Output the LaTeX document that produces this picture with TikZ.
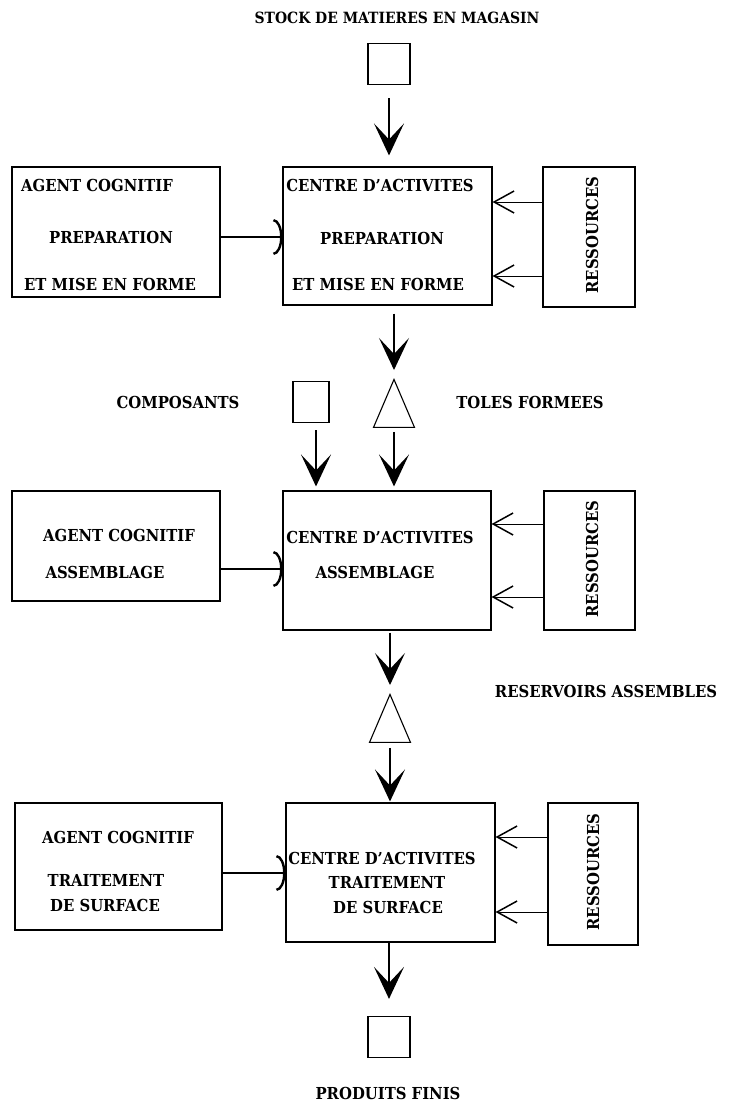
\documentclass[tikz,border=0pt]{standalone}
\usepackage{fontspec}
\setmainfont{DejaVu Serif Condensed}
\usetikzlibrary{arrows.meta, shapes.geometric}

\begin{document}
\begin{tikzpicture}[
  x=1pt, y=-1pt,
  blk/.style 2 args={draw, line width=1.1pt, inner sep=0pt,
    minimum width=#1, minimum height=#2},
  stock/.style={draw, line width=1.2pt, inner sep=0pt,
    minimum width=42pt, minimum height=41pt},
  encours/.style={draw, line width=1.1pt, inner sep=0pt, isosceles triangle,
    isosceles triangle stretches, shape border rotate=90,
    minimum width=41pt, minimum height=48pt, anchor=apex},
  lbl/.style={font=\bfseries\fontsize{16.5}{19}\selectfont, inner sep=0pt},
  flow/.style={-{Stealth[length=32pt, width=30pt, inset=16pt]}, line width=1.3pt},
  res/.style={-{Straight Barb[length=20pt, width=22pt, line width=1.5pt]}, line width=1pt},
  ctl/.style={-{Arc Barb[length=9pt, width=36pt, line width=2.4pt]}, line width=1.2pt},
]
\useasboundingbox (0,0) rectangle (732,1111);

% Stock d'entree
\node[lbl, font=\bfseries\fontsize{15.5}{18}\selectfont] (tStock) at (397,18) {STOCK DE MATIERES EN MAGASIN};
\node[stock] (sq0) at (389,64) {};

% Preparation
\node[blk={208pt}{130pt}] (ag1) at (116,232) {};
\node[blk={209pt}{138pt}] (ce1) at (387.5,236) {};
\node[blk={92pt}{140pt}] (rs1) at (589,237) {};
\node[lbl] (ag1a) at (97,185) {AGENT COGNITIF};
\node[lbl] (ag1b) at (111,237) {PREPARATION};
\node[lbl] (ag1c) at (110,284) {ET MISE EN FORME};
\node[lbl] (ce1a) at (380,185) {CENTRE D'ACTIVITES};
\node[lbl] (ce1b) at (382,238) {PREPARATION};
\node[lbl] (ce1c) at (378,284) {ET MISE EN FORME};
\node[lbl, rotate=90] (rs1a) at (592,235) {RESSOURCES};

% Encours 1
\node[lbl] (tComp) at (178,402) {COMPOSANTS};
\node[stock, minimum width=36pt] (sqc) at (311,402) {};
\node[encours] (tr1) at (394,378) {};
\node[lbl] (tToles) at (530,402) {TOLES FORMEES};

% Assemblage
\node[blk={208pt}{110pt}] (ag2) at (116,546) {};
\node[blk={208pt}{139pt}] (ce2) at (387,560.5) {};
\node[blk={91pt}{139pt}] (rs2) at (589.5,560.5) {};
\node[lbl] (ag2a) at (119,535) {AGENT COGNITIF};
\node[lbl] (ag2b) at (105,572) {ASSEMBLAGE};
\node[lbl] (ce2a) at (380,537) {CENTRE D'ACTIVITES};
\node[lbl] (ce2b) at (375,572) {ASSEMBLAGE};
\node[lbl, rotate=90] (rs2a) at (592,559) {RESSOURCES};

% Encours 2
\node[encours] (tr2) at (390,693) {};
\node[lbl] (tRes) at (606,691) {RESERVOIRS ASSEMBLES};

% Traitement de surface
\node[blk={207pt}{127pt}] (ag3) at (118.5,866.5) {};
\node[blk={209pt}{139pt}] (ce3) at (390.5,872.5) {};
\node[blk={90pt}{142pt}] (rs3) at (593,874) {};
\node[lbl] (ag3a) at (118,837) {AGENT COGNITIF};
\node[lbl] (ag3b) at (106,880) {TRAITEMENT};
\node[lbl] (ag3c) at (105,905) {DE SURFACE};
\node[lbl] (ce3a) at (382,858) {CENTRE D'ACTIVITES};
\node[lbl] (ce3b) at (387,882) {TRAITEMENT};
\node[lbl] (ce3c) at (388,907) {DE SURFACE};
\node[lbl, rotate=90] (rs3a) at (593,872) {RESSOURCES};

% Produits finis
\node[stock] (sqp) at (389,1037) {};
\node[lbl] (tProd) at (388,1093) {PRODUITS FINIS};

% Flux matiere
\draw[flow, shorten <=13pt, shorten >=11pt] (sq0.south) -- (sq0.south |- ce1.north);
\draw[flow, shorten <=8pt, shorten >=8pt] (tr1.apex |- ce1.south) -- (tr1.apex);
\draw[flow, shorten <=4pt, shorten >=4pt] (tr1.lower side) -- (tr1.lower side |- ce2.north);
\draw[flow, shorten <=7pt, shorten >=4pt] ([xshift=5pt]sqc.south) -- ([xshift=5pt]sqc.south |- ce2.north);
\draw[flow, shorten <=2pt, shorten >=8pt] (tr2.apex |- ce2.south) -- (tr2.apex);
\draw[flow, shorten <=5pt, shorten >=1pt] (tr2.lower side) -- (tr2.lower side |- ce3.north);
\draw[flow, shorten >=17pt] (ce3.south -| sqp.north) -- (sqp.north);

% Ressources
\draw[res] ([yshift=35pt]rs1.west) -- ([yshift=34pt]ce1.east);
\draw[res] ([yshift=-39pt]rs1.west) -- ([yshift=-40pt]ce1.east);
\draw[res] ([yshift=36.5pt]rs2.west) -- ([yshift=36.5pt]ce2.east);
\draw[res] ([yshift=-36.5pt]rs2.west) -- ([yshift=-36.5pt]ce2.east);
\draw[res] ([yshift=37pt]rs3.west) -- ([yshift=35.5pt]ce3.east);
\draw[res] ([yshift=-38pt]rs3.west) -- ([yshift=-39.5pt]ce3.east);

% Pilotage
\draw[ctl] ([yshift=-5pt]ag1.east) -- ([yshift=-1pt]ce1.west);
\draw[ctl] ([yshift=-23pt]ag2.east) -- ([yshift=-8.5pt]ce2.west);
\draw[ctl] ([yshift=-6.5pt]ag3.east) -- ([yshift=-0.5pt]ce3.west);

\end{tikzpicture}
\end{document}
